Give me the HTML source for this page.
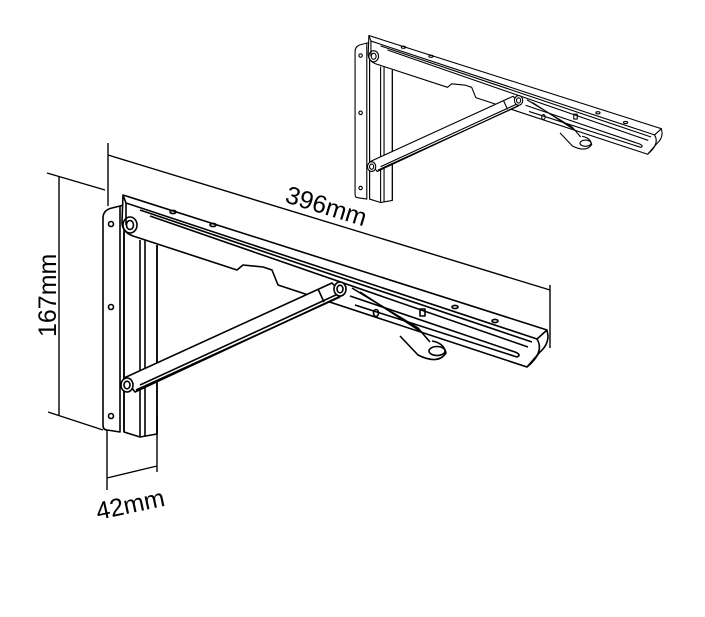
<!DOCTYPE html>
<html><head><meta charset="utf-8"><style>
html,body{margin:0;padding:0;background:#fff;width:705px;height:617px;overflow:hidden}
text{font-family:"Liberation Sans","DejaVu Sans",sans-serif;fill:#000}
</style></head><body>
<svg width="705" height="617" viewBox="0 0 705 617" xmlns="http://www.w3.org/2000/svg">
<defs>
<g id="br" fill="none" stroke="#000" stroke-width="1.6" stroke-linejoin="round">
  <path d="M103,218 Q103,210 112,208 L120,206 L120,432 L107,430 Q103,430 103,425 Z" fill="#fff"/>
  <path d="M120,206 L124,205 L124,432"/>
  <path d="M124,232 L124,432 L140,437 L157,434 L157,245"/>
  <path d="M140,240 L140,436 M145,240 L145,436 M157,245 L157,434"/>
  <circle cx="111" cy="224" r="2.5"/><circle cx="111" cy="307" r="2.5"/><circle cx="111" cy="416" r="2.5"/>
  <path d="M123,195 L547,330 L548,336 Q548,345 540,352 L527,367 L278,285 L272,270 L263,267 L243,265 L237,270 L133,236 Q122,232 122,222 Z" fill="#fff"/>
  <path d="M123,195 L126,203 L537,339 L547,330"/>
  <path d="M126,203 L126,225"/>
  <path d="M140,210 L532,342"/>
  <path d="M150,216 L528,347"/>
  <path d="M537,339 Q545,352 527,367"/>
  <path d="M350,296 L515,352 Q522,355 517,357 L355,305"/>
  <ellipse cx="130" cy="225" rx="7" ry="8"/><ellipse cx="130" cy="225" rx="3.5" ry="4.5"/>
  <ellipse cx="173" cy="212" rx="3" ry="1.6"/><ellipse cx="213" cy="225" rx="3" ry="1.6"/>
  <ellipse cx="455" cy="307" rx="3" ry="1.6"/><ellipse cx="495" cy="321" rx="3" ry="1.6"/>
  <ellipse cx="376" cy="313" rx="2.5" ry="3.5"/>
  <rect x="420" y="309" width="5" height="7"/>
  <path d="M352,288 L418,328 L430,342 M360,292 L423,333"/>
  <path d="M400,336 L418,355 Q438,365 446,353 Q444,343 432,341"/>
  <ellipse cx="437" cy="351" rx="8" ry="4.5"/>
  <path d="M124,378 L332,283 L343,295 L135,392 Z" fill="#fff"/>
  <path d="M136,390 L340,297 M140,385 L338,294 M318,289 L324,302"/>
  <ellipse cx="127" cy="385" rx="6" ry="7" fill="#fff"/><ellipse cx="127" cy="385" rx="3" ry="3.8"/>
  <ellipse cx="340" cy="289" rx="6" ry="7" fill="#fff"/><ellipse cx="340" cy="289" rx="3" ry="3.8"/>
</g>
</defs>
<use href="#br"/>
<use href="#br" transform="translate(284,-99) scale(0.69)"/>
<g stroke="#000" stroke-width="1.4" fill="none">
  <line x1="108" y1="143" x2="108" y2="206"/>
  <line x1="550" y1="285" x2="550" y2="348"/>
  <line x1="108" y1="155" x2="550" y2="290"/>
  <line x1="59" y1="177" x2="59" y2="415"/>
  <line x1="47" y1="173" x2="105" y2="190"/>
  <line x1="48" y1="412" x2="103" y2="430"/>
  <line x1="107" y1="430" x2="107" y2="490"/>
  <line x1="157" y1="415" x2="157" y2="472"/>
  <line x1="107" y1="478" x2="157" y2="466"/>
</g>
<text x="0" y="0" font-size="25" transform="translate(284,202) rotate(17)">396mm</text>
<text x="0" y="0" font-size="25" transform="translate(56,337) rotate(-90)">167mm</text>
<text x="0" y="0" font-size="25" transform="translate(98,520) rotate(-12)">42mm</text>
</svg>
</body></html>
